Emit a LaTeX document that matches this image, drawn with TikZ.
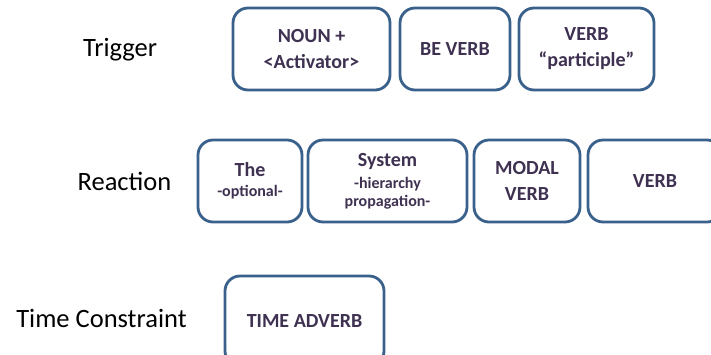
\documentclass[tikz,border=0pt]{standalone}
\usepackage{fontspec}
\setmainfont{Carlito}
\definecolor{boxblue}{RGB}{58,96,140}
\definecolor{boxtext}{RGB}{63,49,81}
\newcommand{\mainsz}{\fontsize{20}{26}\selectfont}
\newcommand{\subsz}{\fontsize{16}{20}\selectfont}
\begin{document}
\begin{tikzpicture}[x=1pt,y=1pt,
  wbox/.style={draw=boxblue, line width=2.8pt, rounded corners=15pt, fill=white,
    minimum height=82pt, inner sep=0pt, align=center, text=boxtext,
    font=\bfseries\mainsz},
  rowlabel/.style={inner sep=0pt, text=black, font=\fontsize{26.5}{30}\selectfont}]
\useasboundingbox (0,0) rectangle (711,-354);
\fill[white] (0,0) rectangle (711,-354);
\clip (0,0) rectangle (711,-354);
% row labels
\node[rowlabel] (ltrig) at (120,-50) {Trigger};
\node[rowlabel] (lreac) at (124.5,-181) {Reaction};
\node[rowlabel] (ltime) at (101.5,-318) {Time Constraint};
% trigger row
\node[wbox, minimum width=157pt] (t1) at (311.5,-49) {NOUN +\\[0pt]{\textless}Activator{\textgreater}};
\node[wbox, minimum width=110pt] (t2) at (455,-49) {BE VERB};
\node[wbox, minimum width=135pt] (t3) at (586.5,-49) {VERB\\[0pt]“participle”};
% reaction row
\node[wbox, minimum width=104pt] (r1) at (250,-181) {The\\[-6pt]{\subsz -optional-}};
\node[wbox, minimum width=159pt] (r2) at (387.5,-181) {System\\[-4pt]{\subsz -hierarchy}\\[-8pt]{\subsz propagation-}};
\node[wbox, minimum width=106pt] (r3) at (527,-181) {MODAL\\[0pt]VERB};
\node[wbox, minimum width=134pt] (r4) at (655,-181) {VERB};
% time constraint row
\node[wbox, minimum width=159pt, minimum height=90pt] (tc) at (304.5,-321) {TIME ADVERB};
\end{tikzpicture}
\end{document}
